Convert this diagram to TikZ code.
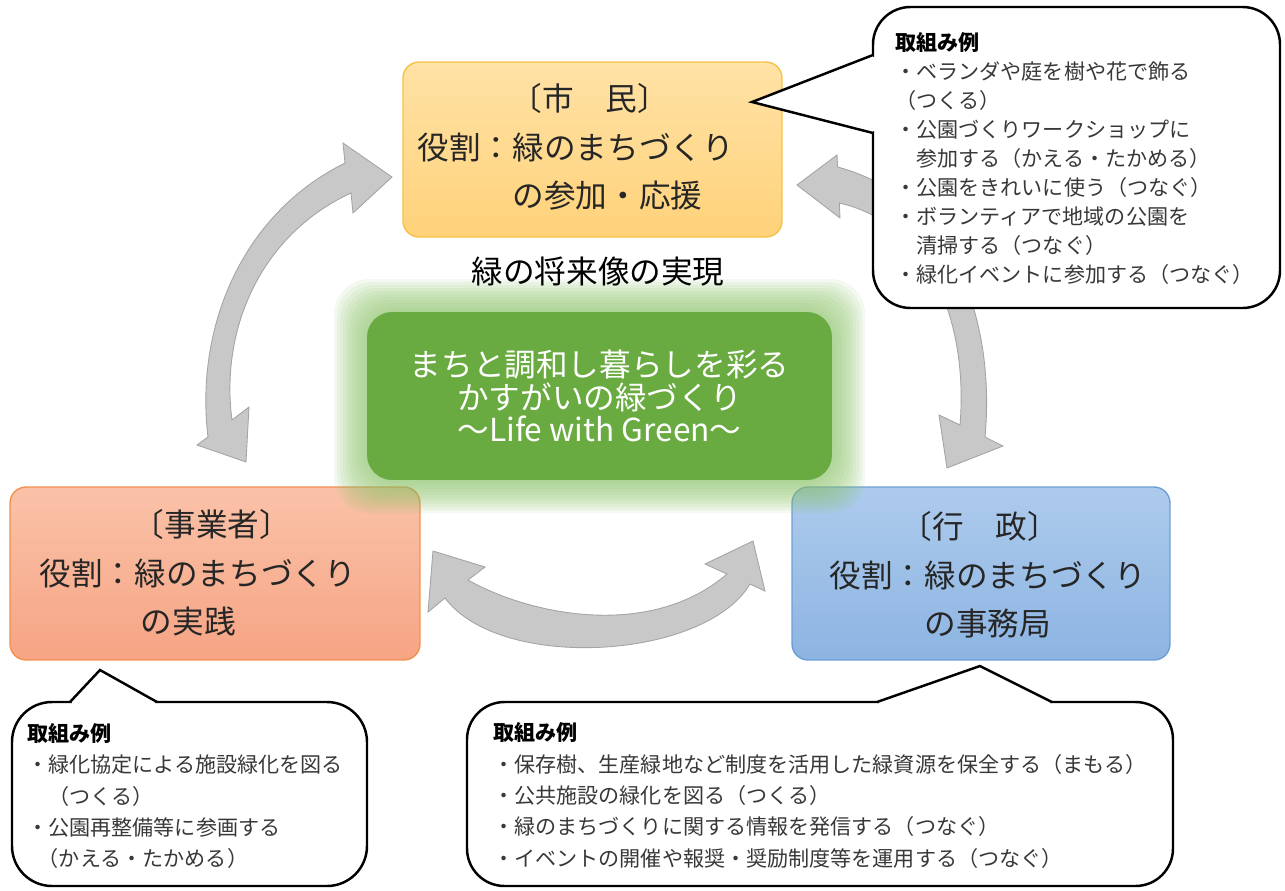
\documentclass[tikz,border=0pt]{standalone}
\usepackage{fontspec}
\setmainfont{Noto Sans CJK JP}
\usetikzlibrary{calc}
\definecolor{shiminA}{HTML}{FFE2A6}
\definecolor{shiminB}{HTML}{FFD27A}
\definecolor{shiminLine}{HTML}{F6C244}
\definecolor{jigyoA}{HTML}{FAC2A8}
\definecolor{jigyoB}{HTML}{F6A484}
\definecolor{jigyoLine}{HTML}{F2904F}
\definecolor{gyoseiA}{HTML}{ADCBEC}
\definecolor{gyoseiB}{HTML}{8DB4E2}
\definecolor{gyoseiLine}{HTML}{6A9FD6}
\definecolor{visiongreen}{HTML}{6AAB41}
\definecolor{glowgreen}{HTML}{8CC26A}
\definecolor{arrowgray}{HTML}{C8C8C8}
\definecolor{arrowedge}{HTML}{A4A4A4}
\definecolor{inktext}{HTML}{262626}
\tikzset{
  rolebox/.style    = {line width=0.8pt, rounded corners=0.32cm, inner sep=0pt},
  roletext/.style   = {font=\fontsize{18}{27.5}\selectfont, align=left, inner sep=0pt,
                       anchor=west, text=inktext},
  vision/.style     = {fill=visiongreen, rounded corners=0.5cm, inner sep=0pt,
                       minimum width=9.3cm, minimum height=3.36cm, align=center,
                       text=white, font=\fontsize{18}{18.7}\selectfont},
  midashi/.style    = {font=\fontsize{18}{20}\selectfont, text=black, inner sep=0pt},
  bubble/.style     = {draw=black, line width=1.4pt, fill=white},
  pointer/.style    = {draw=black, line width=1.4pt, line join=miter},
  gap/.style        = {draw=white, line width=2.2pt},
  bubbletext/.style = {font=\fontsize{12}{17.9}\selectfont, align=left, inner sep=0pt,
                       anchor=west, text=black!78},
  cyclearrow/.style = {fill=arrowgray, draw=arrowedge, line width=0.5pt},
}
\begin{document}
\begin{tikzpicture}[x=0.02cm, y=-0.02cm]
  \useasboundingbox (0,0) rectangle (1285,890);

  % circulating arrows
  \path[cyclearrow] (392,177) -- (353,213) -- (351,193)
    .. controls (260,235) and (220,330) .. (232,420) -- (249,407) -- (246,462)
    -- (197,445) -- (208,437) .. controls (195,330) and (240,215) .. (345,163)
    -- (343,143) -- cycle;
  \path[cyclearrow] (797,185) -- (837,155) -- (837.6,167)
    .. controls (960,200) and (995,330) .. (985,437) -- (1003,446) -- (947,468)
    -- (939,415) -- (960,425) .. controls (968,330) and (935,225) .. (839.3,203)
    -- (840,218) -- cycle;
  \path[cyclearrow] (433,551) -- (485,567) -- (468,580)
    .. controls (530,615) and (650,640) .. (727,574) -- (705,564) -- (753,541)
    -- (765,591) -- (750,584) .. controls (705,660) and (500,672) .. (445,598)
    -- (428,612) -- cycle;

  % the three actors
  \node[rolebox, top color=shiminA, bottom color=shiminB, draw=shiminLine,
        minimum width=7.58cm, minimum height=3.5cm] (shimin) at (592.5,149.5) {};
  \node[rolebox, top color=jigyoA, bottom color=jigyoB, draw=jigyoLine,
        minimum width=8.2cm, minimum height=3.46cm] (jigyo) at (215,573.5) {};
  \node[rolebox, top color=gyoseiA, bottom color=gyoseiB, draw=gyoseiLine,
        minimum width=7.56cm, minimum height=3.46cm] (gyosei) at (981,573.5) {};
  \node[roletext] (shimin-txt) at ($(shimin.west)+(15,-2.5)$)
    {\hspace*{2.95em}〔市　民〕\\役割：緑のまちづくり\\\hspace*{3em}の参加・応援};
  \node[roletext] (jigyo-txt) at ($(jigyo.west)+(30,-0.5)$)
    {\hspace*{2.95em}〔事業者〕\\役割：緑のまちづくり\\\hspace*{3.2em}の実践};
  \node[roletext] (gyosei-txt) at ($(gyosei.west)+(38,1.5)$)
    {\hspace*{2.25em}〔行　政〕\\役割：緑のまちづくり\\\hspace*{3em}の事務局};

  % callouts
  \draw[bubble, rounded corners=0.75cm] (873,7) rectangle (1280,308);
  \draw[gap] (873,57) -- (873,131);
  \fill[white] (873,55) -- (752,102) -- (873,133) -- cycle;
  \draw[pointer] (873,55) -- (752,102) -- (873,133);
  \draw[bubble, rounded corners=0.8cm] (12,702) rectangle (367,886);
  \draw[gap] (72,702) -- (155,702);
  \fill[white] (70,702) -- (100,670) -- (157,702) -- cycle;
  \draw[pointer] (70,702) -- (100,670) -- (157,702);
  \draw[bubble, rounded corners=0.75cm] (467,702) rectangle (1173,886);
  \draw[gap] (879,702) -- (1050,702);
  \fill[white] (877,702) -- (980,666) -- (1052,702) -- cycle;
  \draw[pointer] (877,702) -- (980,666) -- (1052,702);
  \node[bubbletext, font=\fontsize{12}{16.5}\selectfont] (shimin-rei) at (895,158.5)
    {\textbf{\textcolor{black}{取組み例}}\\
     ・ベランダや庭を樹や花で飾る\\
     （つくる）\\
     ・公園づくりワークショップに\\
     \hspace*{1em}参加する（かえる・たかめる）\\
     ・公園をきれいに使う（つなぐ）\\
     ・ボランティアで地域の公園を\\
     \hspace*{1em}清掃する（つなぐ）\\
     ・緑化イベントに参加する（つなぐ）};
  \node[bubbletext] (jigyo-rei) at (27,796)
    {\textbf{\textcolor{black}{取組み例}}\\
     ・緑化協定による施設緑化を図る\\
     \hspace*{1em}（つくる）\\
     ・公園再整備等に参画する\\
     \hspace*{0.5em}（かえる・たかめる）};
  \node[bubbletext] (gyosei-rei) at (493,795.5)
    {\textbf{\textcolor{black}{取組み例}}\\
     ・保存樹、生産緑地など制度を活用した緑資源を保全する（まもる）\\
     ・公共施設の緑化を図る（つくる）\\
     ・緑のまちづくりに関する情報を発信する（つなぐ）\\
     ・イベントの開催や報奨・奨励制度等を運用する（つなぐ）};

  % vision in the middle
  \foreach \g in {33,30,...,3}
    \fill[glowgreen, opacity=0.1, rounded corners=0.7cm]
      (367-\g,312-\g) rectangle (832+\g,480+\g);
  \node[vision] (vision) at (599.5,396)
    {まちと調和し暮らしを彩る\\かすがいの緑づくり\\～Life with Green～};
  \node[midashi] (midashi) at (598,272) {緑の将来像の実現};
\end{tikzpicture}
\end{document}
